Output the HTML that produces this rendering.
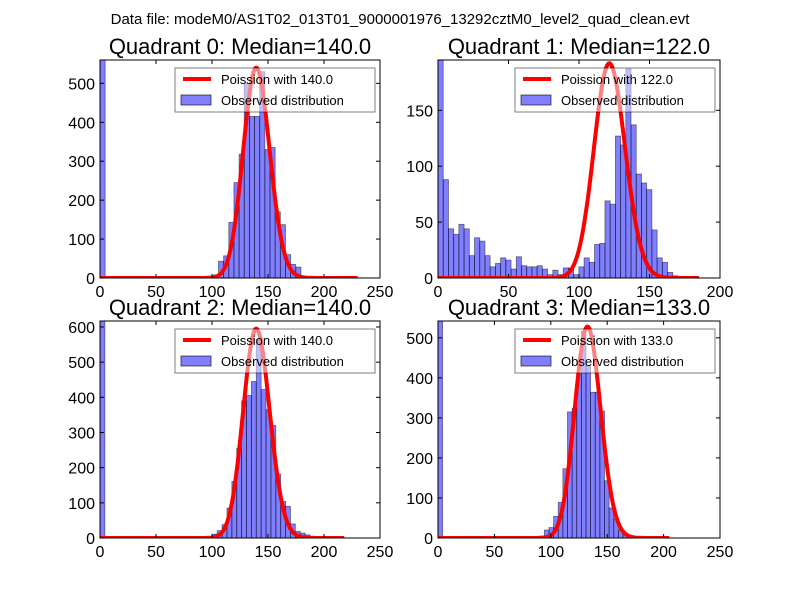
<!DOCTYPE html>
<html><head><meta charset="utf-8"><style>
body{margin:0;background:#fff;width:800px;height:600px;overflow:hidden}
svg{font-family:"Liberation Sans","DejaVu Sans",sans-serif}
</style></head><body>
<svg id="fig" width="800" height="600">
<rect width="800" height="600" fill="#fff"/>
<text x="400" y="24" font-size="15" text-anchor="middle">Data file: modeM0/AS1T02_013T01_9000001976_13292cztM0_level2_quad_clean.evt</text>
</svg>
<script>
const titles=["Quadrant 0: Median=140.0","Quadrant 1: Median=122.0","Quadrant 2: Median=140.0","Quadrant 3: Median=133.0"];
const medians=[140,122,140,133];
const dataMax=[230,185,218,205];
const xMax=[250,200,250,250];
const xTicks0=[0,50,100,150,200,250];
const xTicks1=[0,50,100,150,200];
const yMax=[560,195,617,542];
const yTicks0=[0,100,200,300,400,500];
const yTicks1=[0,50,100,150];
const yTicks2=[0,100,200,300,400,500,600];
const yTicks3=[0,100,200,300,400,500];
const curvePeak=[540,192,595,528];
const counts0=[560,0,0,0,0,0,0,0,0,0,0,0,0,0,0,0,0,0,0,0,0,5,8,43,57,143,245,318,500,415,415,530,330,335,170,137,60,35,28,5,3,1,1,0,0,0,0,0,0,1];
const counts1=[195,88,44,39,48,44,20,36,33,20,10,13,18,16,8,19,11,10,10,11,8,3,7,3,9,9,3,10,18,14,30,31,69,66,127,119,187,137,93,85,79,43,18,14,5,2,1,1,0,1];
const counts2=[617,0,0,0,0,0,0,0,0,0,0,0,0,0,0,0,0,0,0,0,0,0,0,11,21,38,85,161,255,390,405,445,564,422,365,320,182,104,90,40,19,14,9,5,2,1,0,0,0,1];
const counts3=[542,0,0,0,0,0,0,0,0,0,0,0,0,0,0,0,0,0,0,0,0,3,5,20,26,54,89,173,315,324,410,517,430,364,364,317,143,75,48,20,11,3,1,0,0,0,0,0,0,1];
const allCounts=[counts0,counts1,counts2,counts3];
const allXTicks=[xTicks0,xTicks1,xTicks0,xTicks0];
const allYTicks=[yTicks0,yTicks1,yTicks2,yTicks3];
const boxes=[[100,60,380,278],[438,60,720,278],[100,321,380,538],[438,321,720,538]];
const NS="http://www.w3.org/2000/svg";
const fig=document.getElementById('fig');
function mk(tag,attrs,parent){const e=document.createElementNS(NS,tag);for(const k in attrs)e.setAttribute(k,attrs[k]);(parent||fig).appendChild(e);return e;}
function lgamma(n){let s=0;for(let i=2;i<=n;i++)s+=Math.log(i);return s;}
for(let q=0;q<4;q++){
  const [x0,y0,x1,y1]=boxes[q];
  const sx=v=>x0+(v/xMax[q])*(x1-x0);
  const sy=v=>y1-(v/yMax[q])*(y1-y0);
  const g=mk('g',{});
  
  
  const cid='clip'+q;
  const cp=mk('clipPath',{id:cid},g);mk('rect',{x:x0,y:y0,width:x1-x0,height:y1-y0},cp);
  const plot=mk('g',{'clip-path':'url(#'+cid+')'},g);
  const c=allCounts[q];const bw=dataMax[q]/c.length;
  for(let k=0;k<c.length;k++){
    if(c[k]<=0)continue;
    const r=mk('rect',{x:sx(k*bw),y:sy(c[k]),width:sx((k+1)*bw)-sx(k*bw),height:sy(0)-sy(c[k]),fill:'rgba(0,0,255,0.5)',stroke:'rgba(0,0,0,0.5)','stroke-width':0.8},plot);
    
    
  }
  const lam=medians[q];let pts=[];let mx=0;const vals=[];
  for(let n=0;n<=dataMax[q];n++){const v=Math.exp(n*Math.log(lam)-lam-lgamma(n));vals.push(v);if(v>mx)mx=v;}
  for(let n=0;n<=dataMax[q];n++)pts.push(sx(n).toFixed(1)+','+sy(vals[n]/mx*curvePeak[q]).toFixed(1));
  const pl=mk('polyline',{points:pts.join(' '),fill:'none',stroke:'rgb(255,0,0)','stroke-width':4,'stroke-linejoin':'round'},plot);
  
  
  const fr=mk('rect',{x:x0,y:y0,width:x1-x0,height:y1-y0,fill:'none',stroke:'#000','stroke-width':1},g);
  
  
  for(const t of allXTicks[q]){
    const X=sx(t);
    mk('line',{x1:X,y1:y1,x2:X,y2:y1-4,stroke:'#000'},g);mk('line',{x1:X,y1:y0,x2:X,y2:y0+4,stroke:'#000'},g);
    const tx=mk('text',{x:X,y:y1+19,'font-size':16,'text-anchor':'middle'},g);tx.textContent=t;
    
    
  }
  for(const t of allYTicks[q]){
    const Y=sy(t);
    mk('line',{x1:x0,y1:Y,x2:x0+4,y2:Y,stroke:'#000'},g);mk('line',{x1:x1,y1:Y,x2:x1-4,y2:Y,stroke:'#000'},g);
    const tx=mk('text',{x:x0-5,y:Y+6,'font-size':16,'text-anchor':'end'},g);tx.textContent=t;
    
    
  }
  const tt=mk('text',{x:(x0+x1)/2,y:y0-6,'font-size':22,'text-anchor':'middle'},g);tt.textContent=titles[q];
  
  
  const lg=mk('g',{},g);
  
  
  const lx=x1-205,ly=y0+8;
  mk('rect',{x:lx,y:ly,width:200,height:44,fill:'rgba(255,255,255,0.5)',stroke:'rgba(0,0,0,0.5)','stroke-width':1},lg);
  mk('line',{x1:lx+8,y1:ly+11,x2:lx+36,y2:ly+11,stroke:'red','stroke-width':4},lg);
  const t1=mk('text',{x:lx+46,y:ly+16,'font-size':13},lg);t1.textContent='Poission with '+medians[q].toFixed(1);
  
  
  mk('rect',{x:lx+6,y:ly+27,width:30,height:10,fill:'rgba(0,0,255,0.5)',stroke:'rgba(0,0,0,0.6)'},lg);
  const t2=mk('text',{x:lx+46,y:ly+37,'font-size':13},lg);t2.textContent='Observed distribution';
  
  
}
</script>
</body></html>
